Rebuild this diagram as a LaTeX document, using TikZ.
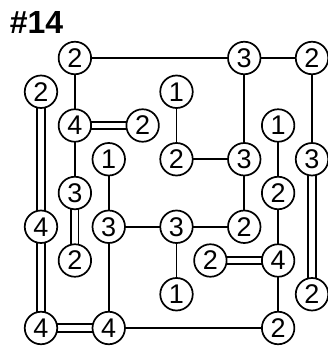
\documentclass[tikz,border=0pt]{standalone}
\usepackage{fontspec}
\setmainfont{Liberation Sans}
\usetikzlibrary{backgrounds}

\begin{document}
\begin{tikzpicture}[
  x=33.875pt, y=-33.75pt,
  isle/.style={circle, draw=black, line width=1.7pt, fill=white, minimum size=32.5pt, inner sep=0pt, font=\fontsize{27}{27}\selectfont},
  bridge/.style={draw=black, line width=1.7pt},
  dbridge/.style={draw=black, line width=1.7pt, double, double distance=5.8pt}
]
\useasboundingbox (-41pt,58pt) rectangle (286pt,-289pt);
\node[font=\fontsize{32}{32}\selectfont\bfseries] (title) at (-4.5pt,35.5pt) {\#14};
% islands
\node[isle] (a) at (1,0) {2};
\node[isle] (b) at (6,0) {3};
\node[isle] (c) at (8,0) {2};
\node[isle] (d) at (0,1) {2};
\node[isle] (e) at (4,1) {1};
\node[isle] (f) at (1,2) {4};
\node[isle] (g) at (3,2) {2};
\node[isle] (h) at (7,2) {1};
\node[isle] (i) at (2,3) {1};
\node[isle] (j) at (4,3) {2};
\node[isle] (k) at (6,3) {3};
\node[isle] (l) at (8,3) {3};
\node[isle] (m) at (1,4) {3};
\node[isle] (n) at (7,4) {2};
\node[isle] (o) at (0,5) {4};
\node[isle] (p) at (2,5) {3};
\node[isle] (q) at (4,5) {3};
\node[isle] (r) at (6,5) {2};
\node[isle] (s) at (1,6) {2};
\node[isle] (t) at (5,6) {2};
\node[isle] (u) at (7,6) {4};
\node[isle] (v) at (4,7) {1};
\node[isle] (w) at (8,7) {2};
\node[isle] (x) at (0,8) {4};
\node[isle] (y) at (2,8) {4};
\node[isle] (z) at (7,8) {2};
% bridges
\begin{scope}[on background layer]
\draw[bridge] (a.center) -- (b.center);
\draw[bridge] (b.center) -- (c.center);
\draw[bridge] (a.center) -- (f.center);
\draw[bridge] (f.center) -- (m.center);
\draw[bridge] (e.center) -- (j.center);
\draw[bridge] (j.center) -- (k.center);
\draw[bridge] (b.center) -- (k.center);
\draw[bridge] (k.center) -- (r.center);
\draw[bridge] (c.center) -- (l.center);
\draw[bridge] (h.center) -- (n.center);
\draw[bridge] (n.center) -- (u.center);
\draw[bridge] (u.center) -- (z.center);
\draw[bridge] (i.center) -- (p.center);
\draw[bridge] (p.center) -- (q.center);
\draw[bridge] (q.center) -- (r.center);
\draw[bridge] (q.center) -- (v.center);
\draw[bridge] (p.center) -- (y.center);
\draw[bridge] (y.center) -- (z.center);
\draw[dbridge] (d.center) -- (o.center);
\draw[dbridge] (o.center) -- (x.center);
\draw[dbridge] (x.center) -- (y.center);
\draw[dbridge] (f.center) -- (g.center);
\draw[dbridge] (m.center) -- (s.center);
\draw[dbridge] (l.center) -- (w.center);
\draw[dbridge] (t.center) -- (u.center);
\end{scope}
\end{tikzpicture}
\end{document}
